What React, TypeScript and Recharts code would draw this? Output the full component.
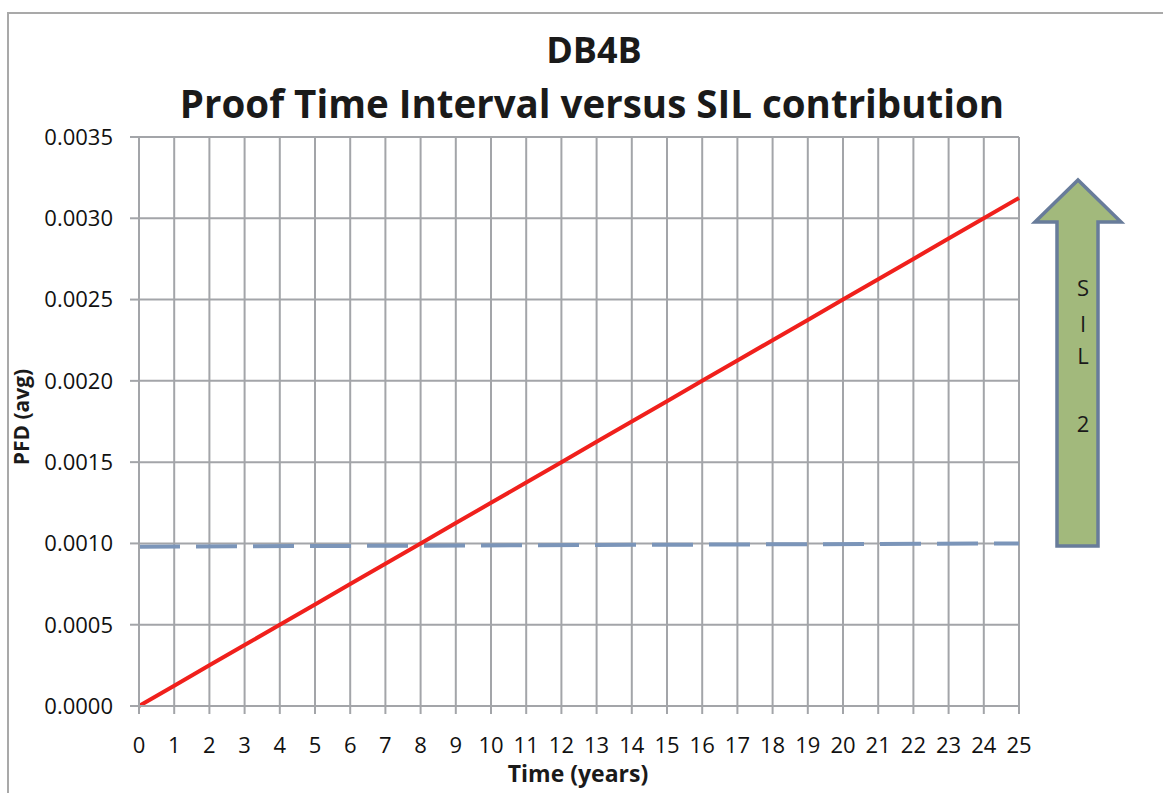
import React from 'react';
import { LineChart, Line, XAxis, YAxis, CartesianGrid } from 'recharts';

const years = [0, 1, 2, 3, 4, 5, 6, 7, 8, 9, 10, 11, 12, 13, 14, 15, 16, 17, 18, 19, 20, 21, 22, 23, 24, 25];
const pfdValues = [
  0, 0.000125, 0.00025, 0.000375, 0.0005, 0.000625, 0.00075, 0.000875, 0.001, 0.001125,
  0.00125, 0.001375, 0.0015, 0.001625, 0.00175, 0.001875, 0.002, 0.002125, 0.00225, 0.002375,
  0.0025, 0.002625, 0.00275, 0.002875, 0.003, 0.003125,
];
const thresholdYears = [0, 25];
const thresholdValues = [0.00098, 0.001];
const yTicks = [0, 0.0005, 0.001, 0.0015, 0.002, 0.0025, 0.003, 0.0035];
const titleLines = ['DB4B', 'Proof Time Interval versus SIL contribution'];
const silLetters = ['S', 'I', 'L', '2'];

const pfdData = years.map((t, i) => ({ t, v: pfdValues[i] }));
const thresholdData = thresholdYears.map((t, i) => ({ t, v: thresholdValues[i] }));

const FONT = "'Open Sans', 'DejaVu Sans', sans-serif";
const GRID = '#a3a5a9';

export default function App() {
  return (
    <div style={{ position: 'absolute', left: 0, top: 0, width: 1163, height: 793, background: '#fff', fontFamily: FONT }}>
      <LineChart
        width={1163}
        height={793}
        margin={{ top: 137, right: 144, bottom: 0, left: 0 }}
        style={{ fontFamily: FONT }}
      >
        <CartesianGrid stroke={GRID} strokeWidth={2} />
        <XAxis
          dataKey="t"
          type="number"
          domain={[0, 25]}
          ticks={years}
          interval={0}
          height={87}
          tickSize={8}
          tickMargin={23}
          axisLine={{ stroke: GRID, strokeWidth: 2 }}
          tickLine={{ stroke: GRID, strokeWidth: 2 }}
          tick={{ fontSize: 22, fill: '#111', fontFamily: FONT }}
          allowDuplicatedCategory={false}
        />
        <YAxis
          type="number"
          domain={[0, 0.0035]}
          ticks={yTicks}
          interval={0}
          width={139}
          tickSize={9}
          tickMargin={17}
          axisLine={{ stroke: GRID, strokeWidth: 2 }}
          tickLine={{ stroke: GRID, strokeWidth: 2 }}
          tick={{ fontSize: 22, fill: '#111', fontFamily: FONT }}
          tickFormatter={(v: number) => v.toFixed(4)}
        />
        <Line
          data={thresholdData}
          dataKey="v"
          type="linear"
          stroke="#7b95b9"
          strokeWidth={4}
          strokeDasharray="41 16"
          dot={false}
          activeDot={false}
          isAnimationActive={false}
        />
        <Line
          data={pfdData}
          dataKey="v"
          type="linear"
          stroke="#f0201c"
          strokeWidth={4}
          dot={false}
          activeDot={false}
          isAnimationActive={false}
        />
      </LineChart>
      <svg
        width={1163}
        height={793}
        style={{ position: 'absolute', left: 0, top: 0, pointerEvents: 'none' }}
      >
        <rect x={8} y={13} width={1170} height={800} fill="none" stroke="#a9a9a9" strokeWidth={2} />
        <text x={594} y={63} textAnchor="middle" fontSize={36} fontWeight={700} fill="#1a1a1a" fontFamily={FONT}>
          {titleLines[0]}
        </text>
        <text x={592} y={118} textAnchor="middle" fontSize={38.5} fontWeight={700} fill="#1a1a1a" fontFamily={FONT}>
          {titleLines[1]}
        </text>
        <text
          x={0}
          y={0}
          transform="translate(29,417) rotate(-90)"
          textAnchor="middle"
          fontSize={21}
          fontWeight={700}
          fill="#1a1a1a"
          fontFamily={FONT}
        >
          PFD (avg)
        </text>
        <text x={578} y={782} textAnchor="middle" fontSize={23} fontWeight={700} fill="#1a1a1a" fontFamily={FONT}>
          Time (years)
        </text>
        <polygon
          points="1078,180 1121,222 1098,222 1098,546 1057,546 1057,222 1035,222"
          fill="#a2b97c"
          stroke="#687c9a"
          strokeWidth={3.5}
          strokeLinejoin="miter"
        />
        {silLetters.map((s, i) => (
          <text
            key={i}
            x={1083}
            y={[287, 323, 355, 423][i]}
            textAnchor="middle"
            dominantBaseline="central"
            fontSize={22}
            fill="#1a1a1a"
            fontFamily={FONT}
          >
            {s}
          </text>
        ))}
      </svg>
    </div>
  );
}
